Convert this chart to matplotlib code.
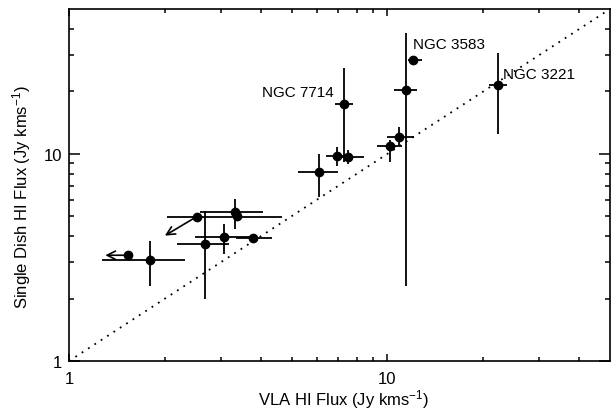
import numpy as np
import matplotlib
matplotlib.use("Agg")
import matplotlib.pyplot as plt
from matplotlib.ticker import FixedLocator, NullFormatter, FuncFormatter

plt.rcParams['font.family'] = ['Liberation Sans', 'DejaVu Sans']
plt.rcParams['mathtext.fontset'] = 'custom'
plt.rcParams['mathtext.rm'] = 'Liberation Sans'
plt.rcParams['mathtext.it'] = 'Liberation Sans'

# HI fluxes (Jy km/s): VLA vs single dish, with error ranges
vla = [1.53, 1.79, 2.52, 3.32, 3.36, 3.07, 3.79, 2.67, 6.10, 6.93, 7.54,
       7.31, 10.2, 10.9, 11.4, 12.0, 22.2]
sd = [3.24, 3.08, 4.98, 5.26, 5.00, 3.96, 3.94, 3.66, 8.21, 9.81, 9.70,
      17.4, 10.9, 12.1, 20.4, 28.4, 21.6]
vla_lo = [1.53, 1.27, 2.03, 2.58, 3.36, 2.49, 3.35, 2.19, 5.22, 6.42, 6.85,
          6.86, 9.26, 9.96, 10.5, 11.6, 20.8]
vla_hi = [1.53, 2.31, 4.66, 4.08, 3.36, 3.79, 4.33, 3.17, 6.99, 7.47, 8.45,
          7.82, 11.1, 12.1, 12.4, 12.8, 23.7]
sd_lo = [3.24, 2.31, 4.98, 4.34, 5.00, 3.29, 3.94, 1.99, 6.22, 8.78, 8.95,
         9.15, 9.12, 10.97, 2.30, 28.4, 12.4]
sd_hi = [3.24, 3.81, 4.98, 6.06, 5.00, 4.59, 3.94, 5.32, 10.0, 10.8, 10.38,
         25.9, 11.6, 13.4, 38.4, 28.4, 30.8]

# upper limits: (start index, arrow tip x, arrow tip y)
limits = [(0, 1.30, 3.24), (2, 2.00, 4.03)]

# named galaxies: index, name, label offset in pixels
names = [(11, "NGC 7714", (-10, 12), 'right'),
         (15, "NGC 3583", (0, 16), 'left'),
         (16, "NGC 3221", (5, 11), 'left')]

vla = np.array(vla); sd = np.array(sd)
xerr = [vla - np.array(vla_lo), np.array(vla_hi) - vla]
yerr = [sd - np.array(sd_lo), np.array(sd_hi) - sd]

fig = plt.figure(figsize=(6.13, 4.10), dpi=100)
ax = fig.add_axes([0.1126, 0.117, 0.8825, 0.8586])

# one-to-one line
ax.plot([1, 50], [1, 50], color='black', lw=1.3, dashes=(1, 3.2))

ax.errorbar(vla, sd, xerr=xerr, yerr=yerr, fmt='o', color='black',
            ms=6, elinewidth=1.3, capsize=0)

for i, tx, ty in limits:
    ax.annotate('', xy=(tx, ty), xytext=(vla[i], sd[i]),
                arrowprops=dict(arrowstyle='->', color='black', lw=1.2,
                                mutation_scale=15, shrinkA=0, shrinkB=0))

for i, name, off, ha in names:
    ax.annotate(name, xy=(vla[i], sd[i]), xytext=off, textcoords='offset pixels',
                ha=ha, va='center', fontsize=11)

ax.set_xscale('log'); ax.set_yscale('log')
ax.set_xlim(1, 50); ax.set_ylim(1, 50)

minor = [2, 3, 4, 5, 6, 7, 8, 9, 20, 30, 40]
for axis in (ax.xaxis, ax.yaxis):
    axis.set_major_locator(FixedLocator([1, 10]))
    axis.set_minor_locator(FixedLocator(minor))
    axis.set_major_formatter(FuncFormatter(lambda v, p: f"{v:g}"))
    axis.set_minor_formatter(NullFormatter())

ax.tick_params(axis='both', which='both', direction='in', top=True, right=True,
               width=1.1, labelsize=12)
ax.tick_params(axis='x', which='major', length=5.0, pad=7)
ax.tick_params(axis='x', which='minor', length=2.6)
ax.tick_params(axis='y', which='major', length=7.8, pad=5)
ax.tick_params(axis='y', which='minor', length=3.9)
for s in ax.spines.values():
    s.set_linewidth(1.2)

ax.set_xlabel(r"VLA HI Flux (Jy kms$^{-1}$)", fontsize=12)
ax.set_ylabel(r"Single Dish HI Flux (Jy kms$^{-1}$)", fontsize=12)
ax.xaxis.set_label_coords(0.508, -0.075)
ax.yaxis.set_label_coords(-0.066, 0.469)

fig.savefig("out.png", dpi=100)
